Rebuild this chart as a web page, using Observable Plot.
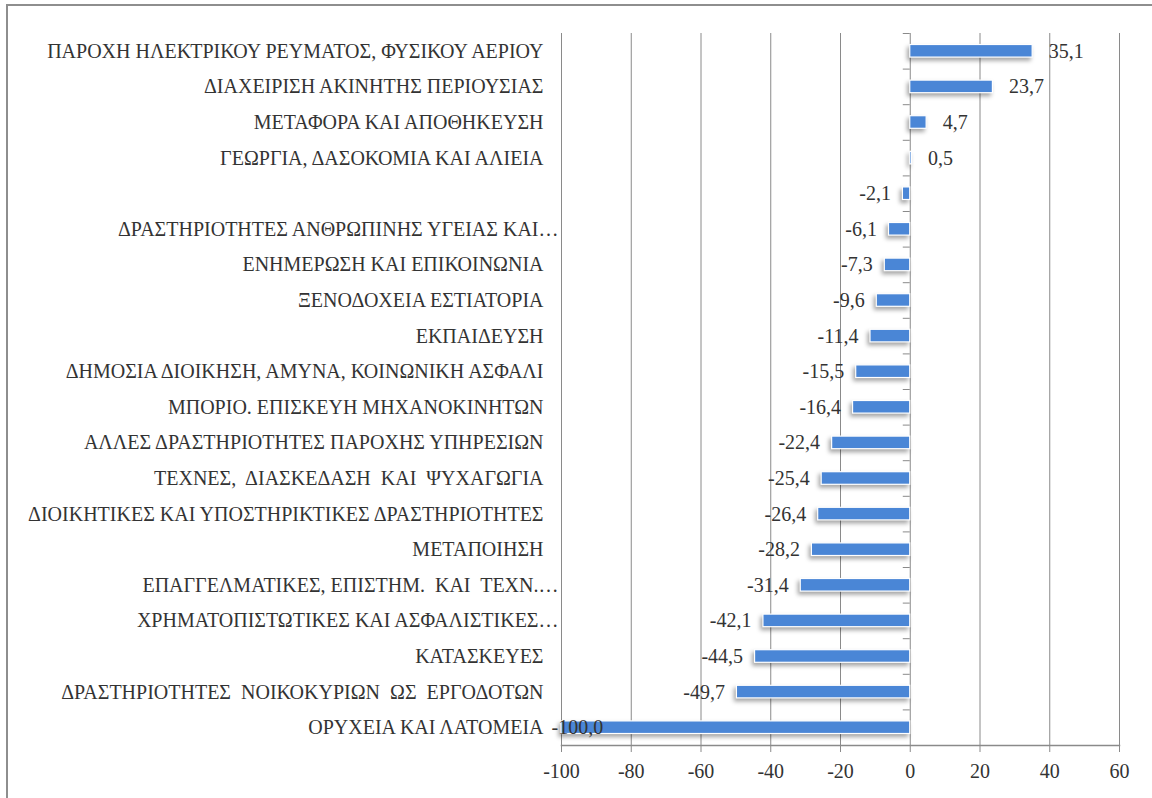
<!DOCTYPE html>
<html>
<head>
<meta charset="utf-8">
<script src="https://cdn.jsdelivr.net/npm/d3@7"></script>
<script src="https://cdn.jsdelivr.net/npm/@observablehq/plot@0.6"></script>
<style>
  html, body { margin: 0; padding: 0; background: #fff; }
  #wrap { position: relative; width: 1152px; height: 798px; overflow: hidden; }
  #border { position: absolute; left: 6px; top: 4px; width: 1200px; height: 900px;
            border-top: 2px solid #8e8e8e; border-left: 2px solid #8e8e8e; pointer-events: none; }
  #chart { position: absolute; left: 0; top: 0; }
</style>
</head>
<body>
<div id="wrap"><div id="chart"></div><div id="border"></div></div>
<script>
const categories = [
  "ΠΑΡΟΧΗ ΗΛΕΚΤΡΙΚΟΥ ΡΕΥΜΑΤΟΣ, ΦΥΣΙΚΟΥ ΑΕΡΙΟΥ",
  "ΔΙΑΧΕΙΡΙΣΗ ΑΚΙΝΗΤΗΣ ΠΕΡΙΟΥΣΙΑΣ",
  "ΜΕΤΑΦΟΡΑ ΚΑΙ ΑΠΟΘΗΚΕΥΣΗ",
  "ΓΕΩΡΓΙΑ, ΔΑΣΟΚΟΜΙΑ ΚΑΙ ΑΛΙΕΙΑ",
  "",
  "ΔΡΑΣΤΗΡΙΟΤΗΤΕΣ ΑΝΘΡΩΠΙΝΗΣ ΥΓΕΙΑΣ ΚΑΙ…",
  "ΕΝΗΜΕΡΩΣΗ ΚΑΙ ΕΠΙΚΟΙΝΩΝΙΑ",
  "ΞΕΝΟΔΟΧΕΙΑ ΕΣΤΙΑΤΟΡΙΑ",
  "ΕΚΠΑΙΔΕΥΣΗ",
  "ΔΗΜΟΣΙΑ ΔΙΟΙΚΗΣΗ, ΑΜΥΝΑ, ΚΟΙΝΩΝΙΚΗ ΑΣΦΑΛΙ",
  "ΜΠΟΡΙΟ. ΕΠΙΣΚΕΥΗ ΜΗΧΑΝΟΚΙΝΗΤΩΝ",
  "ΑΛΛΕΣ ΔΡΑΣΤΗΡΙΟΤΗΤΕΣ ΠΑΡΟΧΗΣ ΥΠΗΡΕΣΙΩΝ",
  "ΤΕΧΝΕΣ,  ΔΙΑΣΚΕΔΑΣΗ  ΚΑΙ  ΨΥΧΑΓΩΓΙΑ",
  "ΔΙΟΙΚΗΤΙΚΕΣ ΚΑΙ ΥΠΟΣΤΗΡΙΚΤΙΚΕΣ ΔΡΑΣΤΗΡΙΟΤΗΤΕΣ",
  "ΜΕΤΑΠΟΙΗΣΗ",
  "ΕΠΑΓΓΕΛΜΑΤΙΚΕΣ, ΕΠΙΣΤΗΜ.  ΚΑΙ  ΤΕΧΝ.…",
  "ΧΡΗΜΑΤΟΠΙΣΤΩΤΙΚΕΣ ΚΑΙ ΑΣΦΑΛΙΣΤΙΚΕΣ…",
  "ΚΑΤΑΣΚΕΥΕΣ",
  "ΔΡΑΣΤΗΡΙΟΤΗΤΕΣ  ΝΟΙΚΟΚΥΡΙΩΝ  ΩΣ  ΕΡΓΟΔΟΤΩΝ",
  "ΟΡΥΧΕΙΑ ΚΑΙ ΛΑΤΟΜΕΙΑ"
];
const values = [35.1, 23.7, 4.7, 0.5, -2.1, -6.1, -7.3, -9.6, -11.4, -15.5, -16.4,
                -22.4, -25.4, -26.4, -28.2, -31.4, -42.1, -44.5, -49.7, -100.0];
const xTicks = [-100, -80, -60, -40, -20, 0, 20, 40, 60];

const data = categories.map((c, i) => ({cat: c, value: values[i]}));
const fmt = v => v.toFixed(1).replace(".", ",");
const FONT = "'Liberation Serif', 'DejaVu Serif', serif";
const TXT = "#333333";
const GRID = "#8a8a8a";
const BAR = "#4a86d6";
const xMin = d3.min(xTicks);
const FS = 20;
const truncated = c => c.endsWith("…");

const H = 798, MT = 33, MB = 53;
const step = (H - MT - MB) / categories.length;

const plot = Plot.plot({
  width: 1152,
  height: H,
  marginLeft: 561,
  marginRight: 33,
  marginTop: MT,
  marginBottom: MB,
  style: {fontFamily: FONT, fontSize: FS + "px", color: TXT, background: "transparent"},
  x: {domain: [d3.min(xTicks), d3.max(xTicks)], ticks: xTicks, label: null},
  y: {domain: categories, padding: 0, round: false, label: null},
  marks: [
    Plot.ruleX(xTicks, {x: d => d, stroke: GRID, strokeWidth: 1}),
    Plot.frame({anchor: "bottom", stroke: GRID, strokeWidth: 1.5}),
    Plot.barX(data, {x: "value", y: "cat", fill: BAR, stroke: "white", strokeWidth: 1.2,
                     insetTop: 11.5, insetBottom: 11.5}),
    Plot.ruleY(categories, {y: d => d, x1: -2, x2: 0, dy: -step / 2, stroke: GRID}),
    Plot.ruleY(categories.slice(-1), {y: d => d, x1: -2, x2: 0, dy: step / 2, stroke: GRID}),
    Plot.text(data.filter(d => d.value >= 0), {x: "value", y: "cat", text: d => fmt(d.value),
      textAnchor: "start", dx: 16, fill: TXT, fontSize: FS}),
    Plot.text(data.filter(d => d.value < 0 && d.value > xMin), {x: "value", y: "cat", text: d => fmt(d.value),
      textAnchor: "end", dx: -12, fill: TXT, fontSize: FS}),
    Plot.text(data.filter(d => d.value <= xMin), {x: xMin, y: "cat", text: d => fmt(d.value),
      textAnchor: "start", dx: -10, fill: TXT, fontSize: FS}),
    Plot.axisY(categories.filter(c => !truncated(c)),
      {anchor: "left", tickSize: 0, tickPadding: 18, fill: TXT, fontSize: FS, label: null}),
    Plot.axisY(categories.filter(truncated),
      {anchor: "left", tickSize: 0, tickPadding: 3, fill: TXT, fontSize: FS, label: null}),
    Plot.axisX({anchor: "bottom", ticks: xTicks, tickSize: 7, tickPadding: 11, stroke: GRID,
                fill: TXT, fontSize: FS, label: null, tickFormat: d => String(d)})
  ]
});
document.getElementById("chart").appendChild(plot);
d3.select(plot).selectAll('g[aria-label="bar"]')
  .style("filter", "drop-shadow(-2px 3px 2px rgba(0,0,0,0.35))");
</script>
</body>
</html>
